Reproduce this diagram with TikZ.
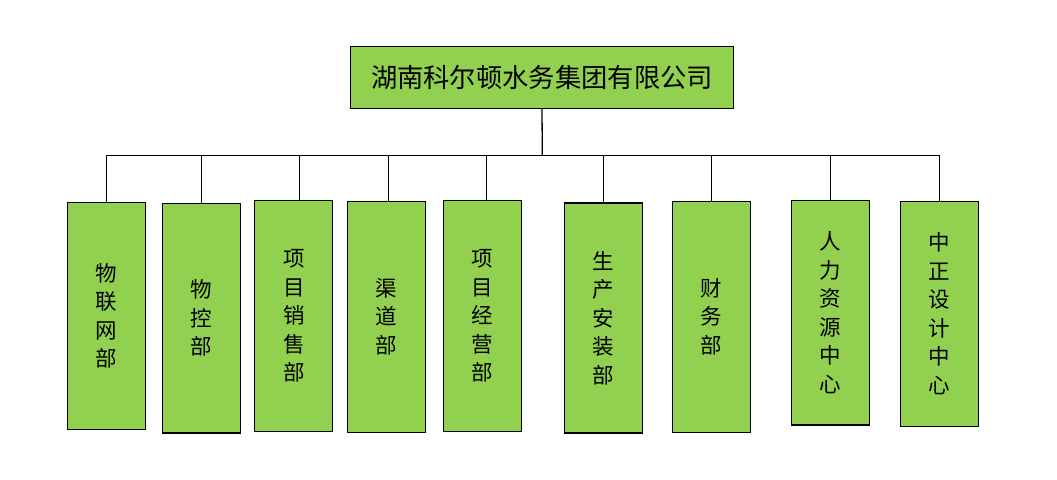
\documentclass[tikz,border=0pt]{standalone}
\usepackage{fontspec}
\setmainfont{Noto Sans CJK SC}
\definecolor{boxgreen}{HTML}{92D050}
\begin{document}
\begin{tikzpicture}[x=1pt,y=-1pt,
  orgbox/.style={draw=black, fill=boxgreen, line width=1.3pt, inner sep=0pt},
  deptbox/.style={orgbox, minimum width=78pt, align=center,
    font=\fontsize{21.5}{28.5}\selectfont},
  link/.style={draw=black, line width=1.3pt}]
\useasboundingbox (0,0) rectangle (1057,479);
\node[orgbox, minimum width=383pt, minimum height=62pt,
  font=\fontsize{26.3}{30}\selectfont] (top) at (542,77.3) {湖南科尔顿水务集团有限公司};

\node[deptbox, minimum height=227pt] (b1) at (106.5,315.8) {物\\联\\网\\部};
\node[deptbox, minimum height=229.7pt] (b2) at (201.3,318.2) {物\\控\\部};
\node[deptbox, minimum height=231pt] (b3) at (293.8,315.8) {项\\目\\销\\售\\部};
\node[deptbox, minimum height=231pt] (b4) at (386.3,316.8) {渠\\道\\部};
\node[deptbox, minimum height=231pt] (b5) at (482.4,315.8) {项\\目\\经\\营\\部};
\node[deptbox, minimum height=230pt] (b6) at (603.3,318) {生\\产\\安\\装\\部};
\node[deptbox, minimum height=231pt] (b7) at (711.3,316.8) {财\\务\\部};
\node[deptbox, minimum height=224.7pt] (b8) at (830.4,312.7) {人\\力\\资\\源\\中\\心};
\node[deptbox, minimum height=225pt] (b9) at (939.3,313.8) {中\\正\\设\\计\\中\\心};

\coordinate (bus) at (542.3,155.3);
\coordinate (c1) at (106.3,155.3);
\coordinate (c2) at (201.7,155.3);
\coordinate (c3) at (299.3,155.3);
\coordinate (c4) at (388.3,155.3);
\coordinate (c5) at (486.5,155.3);
\coordinate (c6) at (603.3,155.3);
\coordinate (c7) at (711.7,155.3);
\coordinate (c8) at (830.3,155.3);
\coordinate (c9) at (939.3,155.3);

\draw[link] (top.south) -- (bus);
\draw[link] (c1) -- (c9);
\foreach \i in {1,...,9} {
  \draw[link] (c\i) -- (c\i |- b\i.north);
}
\end{tikzpicture}
\end{document}
